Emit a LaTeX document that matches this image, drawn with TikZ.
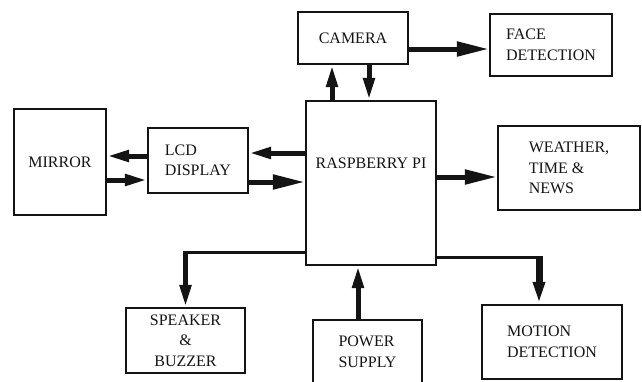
\documentclass[tikz,border=0pt]{standalone}
\usepackage{fontspec}
\setmainfont{Liberation Serif}
\usepackage{tikz}
\usetikzlibrary{arrows.meta,positioning,calc}
\usepackage{xcolor}
\definecolor{inkblack}{RGB}{20,20,20}

\begin{document}
\begin{tikzpicture}[x=1pt, y=-1pt, >={Triangle[length=22pt,width=11pt]}]
\tikzset{
  block/.style={draw=inkblack, line width=2.2pt, align=left, inner sep=2pt, text=inkblack, font=\fontsize{16}{20.5}\selectfont},
  flow/.style={->, line width=5pt, draw=inkblack},
  longflow/.style={flow, -{Triangle[length=32pt,width=14pt]}},
  feed/.style={line width=3pt, draw=inkblack}
}
\path[use as bounding box, fill=white] (0,0) rectangle (642,381);

\node[block, minimum width=92pt, minimum height=106pt] (mirror) at (60,162) {MIRROR};
\node[block, minimum width=100pt, minimum height=65pt] (lcd) at (198,160.5) {LCD\\DISPLAY};
\node[block, minimum width=130pt, minimum height=164pt] (rpi) at (371,183) {};
\node[text=inkblack, font=\fontsize{16}{20.5}\selectfont] (rpitext) at ([yshift=20pt]rpi.center) {RASPBERRY PI};
\node[block, minimum width=110pt, minimum height=52pt] (camera) at (353,38) {CAMERA};
\node[block, minimum width=122pt, minimum height=62pt] (face) at (551,45) {FACE\\DETECTION};
\node[block, minimum width=142pt, minimum height=84pt] (weather) at (569,168) {WEATHER,\\TIME \&\\NEWS};
\node[block, align=center, minimum width=119pt, minimum height=65pt] (speaker) at (185.5,340.5) {SPEAKER\\\&\\BUZZER};
\node[block, minimum width=109pt, minimum height=64pt] (power) at (367.5,352) {POWER\\SUPPLY};
\node[block, minimum width=140pt, minimum height=74pt] (motion) at (552,342) {MOTION\\DETECTION};

% mirror and display
\coordinate (lm) at ([yshift=4.5pt]lcd.west);
\draw[flow] (lm) -- (lm -| mirror.east);
\coordinate (ml) at ([yshift=-18pt]mirror.east);
\draw[flow] (ml) -- (ml -| lcd.west);
\coordinate (rl) at ([yshift=30pt]rpi.west);
\draw[flow] (rl) -- (rl -| lcd.east);
\coordinate (lr) at ([yshift=-21.5pt]lcd.east);
\draw[longflow] (lr) -- (lr -| rpi.west);

% camera
\coordinate (rc) at ([xshift=-39pt]rpi.north);
\draw[flow] (rc) -- (rc |- camera.south);
\coordinate (cr) at ([xshift=16pt]camera.south);
\draw[flow] (cr) -- (cr |- rpi.north);
\coordinate (cf) at ([yshift=-11pt]camera.east);
\draw[longflow] (cf) -- (cf -| face.west);

% outputs
\coordinate (rw) at ([yshift=6pt]rpi.east);
\draw[longflow] (rw) -- (rw -| weather.west);

\coordinate (rs) at ([yshift=-69pt]rpi.west);
\coordinate (sk) at (rs -| speaker.north);
\draw[feed] (rs) -- (sk);
\draw[flow] ([yshift=1.5pt]sk) -- (speaker.north);

\coordinate (pr) at ([xshift=-9.5pt]power.north);
\draw[flow] (pr) -- (pr |- rpi.south);

\coordinate (rm) at ([yshift=-74pt]rpi.east);
\coordinate (mtop) at ([xshift=-13pt]motion.north);
\coordinate (mt) at (rm -| mtop);
\draw[feed] (rm) -- (mt);
\draw[flow, line width=7pt] ([yshift=1.5pt]mt) -- (mtop);
\end{tikzpicture}
\end{document}
